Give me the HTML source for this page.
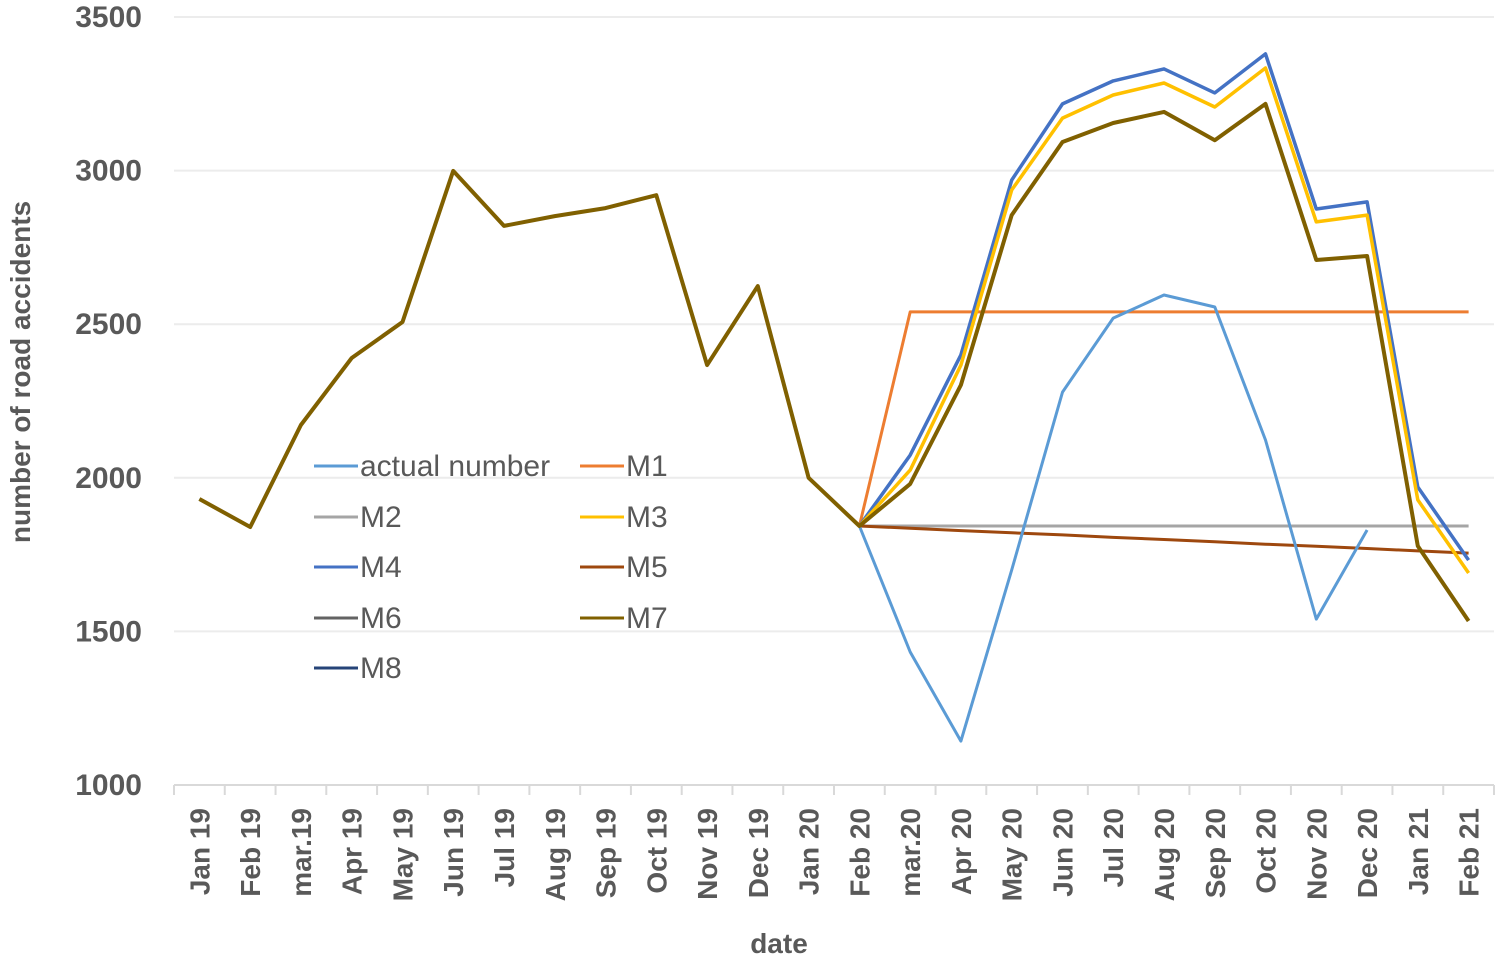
<!DOCTYPE html>
<html><head><meta charset="utf-8"><style>
html,body{margin:0;padding:0;background:#fff;}
svg{display:block;font-family:"Liberation Sans",sans-serif;}
</style></head><body>
<svg id="chart" width="1500" height="961" viewBox="0 0 1500 961">
<g id="grid"></g><g id="axes"></g><g id="series"></g><g id="legend"></g>
</svg>
<script>
const categories=["Jan 19","Feb 19","mar.19","Apr 19","May 19","Jun 19","Jul 19","Aug 19","Sep 19","Oct 19","Nov 19","Dec 19","Jan 20","Feb 20","mar.20","Apr 20","May 20","Jun 20","Jul 20","Aug 20","Sep 20","Oct 20","Nov 20","Dec 20","Jan 21","Feb 21"];
const yTicks=[1000,1500,2000,2500,3000,3500];
const history=[1931,1840,2172,2390,2507,2999,2820,2852,2878,2920,2367,2624,2000,1843];
const actualAfter=[1433,1143,1700,2279,2520,2595,2556,2123,1540,1830,null,null];
const m1After=[2540,2540,2540,2540,2540,2540,2540,2540,2540,2540,2540,2540];
const m2After=[1843,1843,1843,1843,1843,1843,1843,1843,1843,1843,1843,1843];
const m3After=[2025,2367,2937,3171,3246,3285,3207,3334,2833,2855,1928,1690];
const m4After=[2074,2400,2969,3217,3292,3331,3253,3380,2875,2898,1970,1732];
const m5After=[1836,1828,1821,1814,1806,1799,1792,1784,1777,1770,1762,1755];
const m7After=[1980,2302,2855,3093,3155,3191,3099,3217,2709,2722,1778,1534];
const NS="http://www.w3.org/2000/svg";
const x0=174,x1=1494,yTop=17,yBot=785,ymin=1000,ymax=3500;
const step=(x1-x0)/categories.length;
function xs(i){return x0+step*(i+0.5);}
function ys(v){return yBot-(v-ymin)/(ymax-ymin)*(yBot-yTop);}
function mk(tag,attrs,parent){const e=document.createElementNS(NS,tag);for(const k in attrs)e.setAttribute(k,attrs[k]);parent.appendChild(e);return e;}
const grid=document.getElementById('grid'),axes=document.getElementById('axes'),ser=document.getElementById('series'),leg=document.getElementById('legend');
yTicks.forEach(t=>{
  if(t>ymin){const l=mk('line',{x1:x0,x2:x1,y1:ys(t),y2:ys(t),stroke:'#ececec','stroke-width':2},grid);
  
  }
  const tx=mk('text',{x:142,y:ys(t)+10,'text-anchor':'end','font-size':30,'font-weight':'bold',fill:'#595959'},axes);
  tx.textContent=t;
  
  
});
const ax=mk('line',{x1:x0,x2:x1,y1:yBot,y2:yBot,stroke:'#d9d9d9','stroke-width':2},axes);


for(let i=0;i<=categories.length;i++){
  const tk=mk('line',{x1:x0+step*i,x2:x0+step*i,y1:yBot,y2:yBot+10,stroke:'#d9d9d9','stroke-width':2},axes);
  
  
}
categories.forEach((c,i)=>{
  const tx=mk('text',{x:0,y:0,'text-anchor':'end','font-size':28,'font-weight':'bold',fill:'#595959',transform:`translate(${xs(i)+10},808) rotate(-90)`},axes);
  tx.textContent=c;
  
  
});
const yt=mk('text',{x:0,y:0,'text-anchor':'middle','font-size':28,'font-weight':'bold',fill:'#595959',transform:'translate(30,372) rotate(-90)'},axes);
yt.textContent='number of road accidents';


const xt=mk('text',{x:779,y:953,'text-anchor':'middle','font-size':28,'font-weight':'bold',fill:'#595959'},axes);
xt.textContent='date';


function full(after){return history.slice(0,13).map(()=>null).concat([history[13]]).concat(after);}
function drawLine(vals,color,w,name){
  let d='',pen=false;
  vals.forEach((v,i)=>{if(v==null){pen=false;return;}d+=(pen?'L':'M')+xs(i).toFixed(1)+' '+ys(v).toFixed(1)+' ';pen=true;});
  const p=mk('path',{d:d,fill:'none',stroke:color,'stroke-width':w,'stroke-linejoin':'round'},ser);
  
  
}
drawLine(full(m1After),'#ed7d31',3,'series-m1');
drawLine(full(m2After),'#a5a5a5',3,'series-m2');
drawLine(full(m5After),'#9e480e',3,'series-m5');
drawLine(history.concat(actualAfter),'#5b9bd5',3,'series-actual-number');
drawLine(full(m4After),'#4472c4',3.5,'series-m4');
drawLine(full(m3After),'#ffc000',3.5,'series-m3');
drawLine(history.concat(m7After),'#806000',4,'series-m7');
const legItems=[["actual number",'#5b9bd5',314,466],["M1",'#ed7d31',580,466],["M2",'#a5a5a5',314,517],["M3",'#ffc000',580,517],["M4",'#4472c4',314,567],["M5",'#9e480e',580,567],["M6",'#636363',314,618],["M7",'#806000',580,618],["M8",'#264478',314,668]];
legItems.forEach(it=>{
  const g=mk('g',{},leg);
  
  
  mk('line',{x1:it[2],x2:it[2]+44,y1:it[3],y2:it[3],stroke:it[1],'stroke-width':3},g);
  const t=mk('text',{x:it[2]+46,y:it[3]+10,'font-size':30,fill:'#595959'},g);
  t.textContent=it[0];
});
</script>
</body></html>
